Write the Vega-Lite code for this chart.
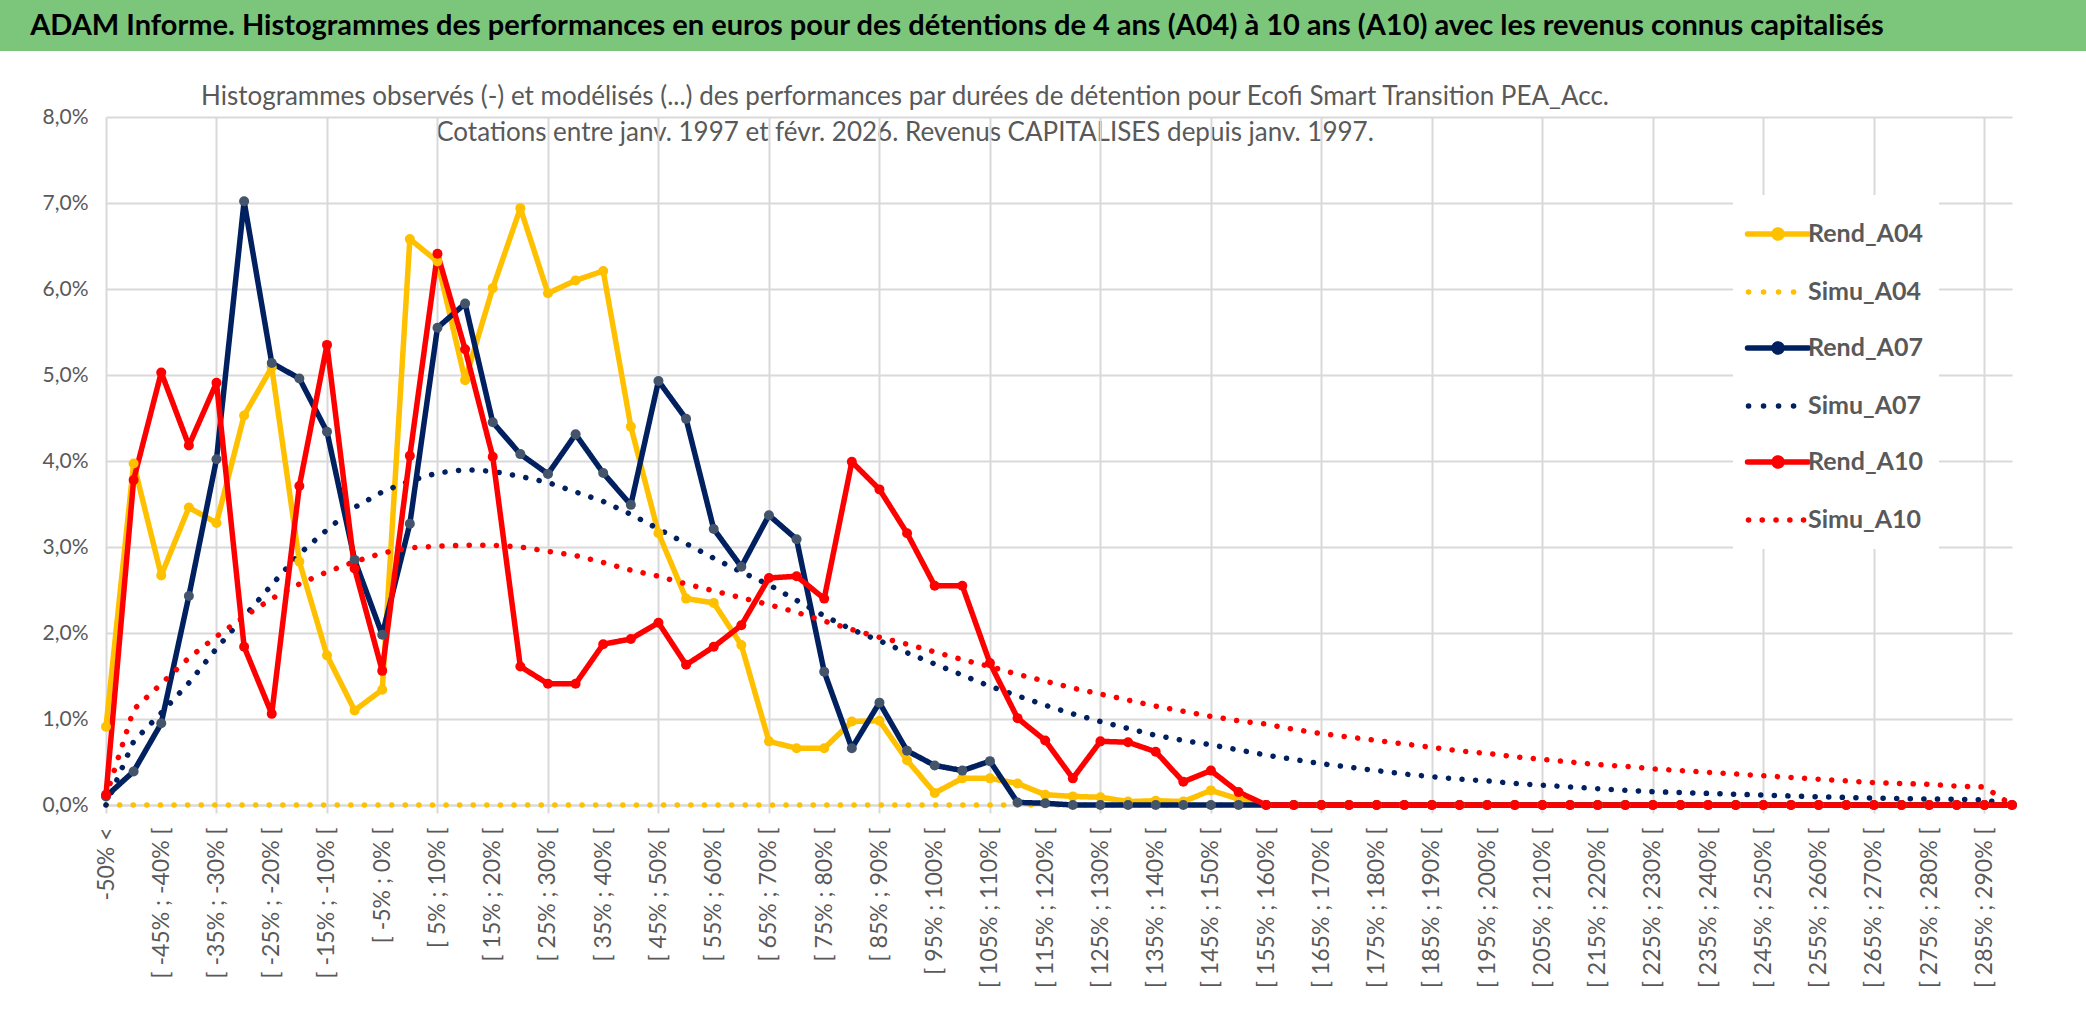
{
  "$schema": "https://vega.github.io/schema/vega-lite/v6.json",
  "background": "white",
  "padding": 0,
  "columns": 1,
  "bounds": "flush",
  "spacing": 13,
  "config": {"font": "Lato", "view": {"stroke": null}},
  "concat": [
    {
      "width": 2086,
      "height": 51,
      "view": {"fill": "#7CC67C", "stroke": null},
      "data": {"values": [{"t": "ADAM Informe. Histogrammes des performances en euros pour des détentions de 4 ans (A04) à 10 ans (A10) avec les revenus connus capitalisés"}]},
      "mark": {"type": "text", "align": "center", "baseline": "middle", "dx": -86, "font": "Lato", "fontSize": 29, "fontWeight": "bold", "color": "#000000"},
      "encoding": {"text": {"field": "t", "type": "nominal"}}
    },
    {
      "width": 1810,
      "height": 40,
      "data": {"values": [{"t": ["Histogrammes observés (-) et modélisés (...) des performances par durées de détention pour Ecofi Smart Transition PEA_Acc.", "Cotations entre janv. 1997 et févr. 2026. Revenus CAPITALISES depuis janv. 1997."]}]},
      "mark": {"type": "text", "align": "center", "baseline": "top", "lineHeight": 36, "font": "Lato", "fontSize": 26, "color": "#595959"},
      "encoding": {"text": {"field": "t", "type": "nominal"}}
    },
    {
      "width": 2012,
      "height": 688,
      "data": {"values": [
        {"c": "-50% <", "Rend_A04": 0.91, "Simu_A04": 0, "Rend_A07": 0.10, "Simu_A07": 0.0, "Rend_A10": 0.12, "Simu_A10": 0.10},
        {"c": "[ -50% ; -45% [", "Rend_A04": 3.97, "Simu_A04": 0, "Rend_A07": 0.39, "Simu_A07": 0.74, "Rend_A10": 3.78, "Simu_A10": 1.11},
        {"c": "[ -45% ; -40% [", "Rend_A04": 2.67, "Simu_A04": 0, "Rend_A07": 0.95, "Simu_A07": 1.07, "Rend_A10": 5.03, "Simu_A10": 1.41},
        {"c": "[ -40% ; -35% [", "Rend_A04": 3.46, "Simu_A04": 0, "Rend_A07": 2.43, "Simu_A07": 1.42, "Rend_A10": 4.18, "Simu_A10": 1.71},
        {"c": "[ -35% ; -30% [", "Rend_A04": 3.28, "Simu_A04": 0, "Rend_A07": 4.02, "Simu_A07": 1.82, "Rend_A10": 4.91, "Simu_A10": 1.96},
        {"c": "[ -30% ; -25% [", "Rend_A04": 4.53, "Simu_A04": 0, "Rend_A07": 7.02, "Simu_A07": 2.19, "Rend_A10": 1.84, "Simu_A10": 2.19},
        {"c": "[ -25% ; -20% [", "Rend_A04": 5.09, "Simu_A04": 0, "Rend_A07": 5.14, "Simu_A07": 2.56, "Rend_A10": 1.06, "Simu_A10": 2.40},
        {"c": "[ -20% ; -15% [", "Rend_A04": 2.83, "Simu_A04": 0, "Rend_A07": 4.96, "Simu_A07": 2.92, "Rend_A10": 3.71, "Simu_A10": 2.57},
        {"c": "[ -15% ; -10% [", "Rend_A04": 1.74, "Simu_A04": 0, "Rend_A07": 4.34, "Simu_A07": 3.20, "Rend_A10": 5.35, "Simu_A10": 2.71},
        {"c": "[ -10% ; -5% [", "Rend_A04": 1.10, "Simu_A04": 0, "Rend_A07": 2.85, "Simu_A07": 3.46, "Rend_A10": 2.75, "Simu_A10": 2.83},
        {"c": "[ -5% ; 0% [", "Rend_A04": 1.34, "Simu_A04": 0, "Rend_A07": 1.98, "Simu_A07": 3.64, "Rend_A10": 1.56, "Simu_A10": 2.93},
        {"c": "[ 0% ; 5% [", "Rend_A04": 6.58, "Simu_A04": 0, "Rend_A07": 3.27, "Simu_A07": 3.77, "Rend_A10": 4.06, "Simu_A10": 2.99},
        {"c": "[ 5% ; 10% [", "Rend_A04": 6.32, "Simu_A04": 0, "Rend_A07": 5.55, "Simu_A07": 3.86, "Rend_A10": 6.41, "Simu_A10": 3.01},
        {"c": "[ 10% ; 15% [", "Rend_A04": 4.94, "Simu_A04": 0, "Rend_A07": 5.83, "Simu_A07": 3.90, "Rend_A10": 5.30, "Simu_A10": 3.02},
        {"c": "[ 15% ; 20% [", "Rend_A04": 6.01, "Simu_A04": 0, "Rend_A07": 4.45, "Simu_A07": 3.88, "Rend_A10": 4.05, "Simu_A10": 3.02},
        {"c": "[ 20% ; 25% [", "Rend_A04": 6.94, "Simu_A04": 0, "Rend_A07": 4.08, "Simu_A07": 3.82, "Rend_A10": 1.61, "Simu_A10": 3.00},
        {"c": "[ 25% ; 30% [", "Rend_A04": 5.95, "Simu_A04": 0, "Rend_A07": 3.85, "Simu_A07": 3.75, "Rend_A10": 1.41, "Simu_A10": 2.95},
        {"c": "[ 30% ; 35% [", "Rend_A04": 6.10, "Simu_A04": 0, "Rend_A07": 4.31, "Simu_A07": 3.64, "Rend_A10": 1.41, "Simu_A10": 2.90},
        {"c": "[ 35% ; 40% [", "Rend_A04": 6.21, "Simu_A04": 0, "Rend_A07": 3.86, "Simu_A07": 3.53, "Rend_A10": 1.87, "Simu_A10": 2.82},
        {"c": "[ 40% ; 45% [", "Rend_A04": 4.40, "Simu_A04": 0, "Rend_A07": 3.49, "Simu_A07": 3.38, "Rend_A10": 1.93, "Simu_A10": 2.73},
        {"c": "[ 45% ; 50% [", "Rend_A04": 3.16, "Simu_A04": 0, "Rend_A07": 4.93, "Simu_A07": 3.21, "Rend_A10": 2.12, "Simu_A10": 2.66},
        {"c": "[ 50% ; 55% [", "Rend_A04": 2.40, "Simu_A04": 0, "Rend_A07": 4.49, "Simu_A07": 3.04, "Rend_A10": 1.63, "Simu_A10": 2.57},
        {"c": "[ 55% ; 60% [", "Rend_A04": 2.35, "Simu_A04": 0, "Rend_A07": 3.21, "Simu_A07": 2.87, "Rend_A10": 1.84, "Simu_A10": 2.49},
        {"c": "[ 60% ; 65% [", "Rend_A04": 1.86, "Simu_A04": 0, "Rend_A07": 2.77, "Simu_A07": 2.71, "Rend_A10": 2.09, "Simu_A10": 2.41},
        {"c": "[ 65% ; 70% [", "Rend_A04": 0.74, "Simu_A04": 0, "Rend_A07": 3.37, "Simu_A07": 2.56, "Rend_A10": 2.64, "Simu_A10": 2.33},
        {"c": "[ 70% ; 75% [", "Rend_A04": 0.66, "Simu_A04": 0, "Rend_A07": 3.09, "Simu_A07": 2.38, "Rend_A10": 2.66, "Simu_A10": 2.24},
        {"c": "[ 75% ; 80% [", "Rend_A04": 0.66, "Simu_A04": 0, "Rend_A07": 1.55, "Simu_A07": 2.20, "Rend_A10": 2.40, "Simu_A10": 2.14},
        {"c": "[ 80% ; 85% [", "Rend_A04": 0.97, "Simu_A04": 0, "Rend_A07": 0.66, "Simu_A07": 2.04, "Rend_A10": 3.99, "Simu_A10": 2.04},
        {"c": "[ 85% ; 90% [", "Rend_A04": 0.98, "Simu_A04": 0, "Rend_A07": 1.19, "Simu_A07": 1.91, "Rend_A10": 3.67, "Simu_A10": 1.95},
        {"c": "[ 90% ; 95% [", "Rend_A04": 0.52, "Simu_A04": 0, "Rend_A07": 0.63, "Simu_A07": 1.77, "Rend_A10": 3.16, "Simu_A10": 1.87},
        {"c": "[ 95% ; 100% [", "Rend_A04": 0.14, "Simu_A04": 0, "Rend_A07": 0.46, "Simu_A07": 1.64, "Rend_A10": 2.55, "Simu_A10": 1.78},
        {"c": "[ 100% ; 105% [", "Rend_A04": 0.31, "Simu_A04": 0, "Rend_A07": 0.40, "Simu_A07": 1.51, "Rend_A10": 2.55, "Simu_A10": 1.69},
        {"c": "[ 105% ; 110% [", "Rend_A04": 0.31, "Simu_A04": 0, "Rend_A07": 0.51, "Simu_A07": 1.38, "Rend_A10": 1.65, "Simu_A10": 1.61},
        {"c": "[ 110% ; 115% [", "Rend_A04": 0.25, "Simu_A04": 0, "Rend_A07": 0.03, "Simu_A07": 1.27, "Rend_A10": 1.01, "Simu_A10": 1.52},
        {"c": "[ 115% ; 120% [", "Rend_A04": 0.12, "Simu_A04": 0, "Rend_A07": 0.02, "Simu_A07": 1.16, "Rend_A10": 0.75, "Simu_A10": 1.44},
        {"c": "[ 120% ; 125% [", "Rend_A04": 0.10, "Simu_A04": 0, "Rend_A07": 0, "Simu_A07": 1.06, "Rend_A10": 0.31, "Simu_A10": 1.36},
        {"c": "[ 125% ; 130% [", "Rend_A04": 0.09, "Simu_A04": 0, "Rend_A07": 0, "Simu_A07": 0.97, "Rend_A10": 0.74, "Simu_A10": 1.29},
        {"c": "[ 130% ; 135% [", "Rend_A04": 0.04, "Simu_A04": 0, "Rend_A07": 0, "Simu_A07": 0.89, "Rend_A10": 0.73, "Simu_A10": 1.22},
        {"c": "[ 135% ; 140% [", "Rend_A04": 0.05, "Simu_A04": 0, "Rend_A07": 0, "Simu_A07": 0.81, "Rend_A10": 0.62, "Simu_A10": 1.15},
        {"c": "[ 140% ; 145% [", "Rend_A04": 0.04, "Simu_A04": 0, "Rend_A07": 0, "Simu_A07": 0.75, "Rend_A10": 0.27, "Simu_A10": 1.09},
        {"c": "[ 145% ; 150% [", "Rend_A04": 0.17, "Simu_A04": 0, "Rend_A07": 0, "Simu_A07": 0.70, "Rend_A10": 0.40, "Simu_A10": 1.03},
        {"c": "[ 150% ; 155% [", "Rend_A04": 0.07, "Simu_A04": 0, "Rend_A07": 0, "Simu_A07": 0.64, "Rend_A10": 0.15, "Simu_A10": 0.98},
        {"c": "[ 155% ; 160% [", "Rend_A04": 0, "Simu_A04": 0, "Rend_A07": 0, "Simu_A07": 0.58, "Rend_A10": 0, "Simu_A10": 0.94},
        {"c": "[ 160% ; 165% [", "Rend_A04": 0, "Simu_A04": 0, "Rend_A07": 0, "Simu_A07": 0.53, "Rend_A10": 0, "Simu_A10": 0.88},
        {"c": "[ 165% ; 170% [", "Rend_A04": 0, "Simu_A04": 0, "Rend_A07": 0, "Simu_A07": 0.48, "Rend_A10": 0, "Simu_A10": 0.83},
        {"c": "[ 170% ; 175% [", "Rend_A04": 0, "Simu_A04": 0, "Rend_A07": 0, "Simu_A07": 0.44, "Rend_A10": 0, "Simu_A10": 0.79},
        {"c": "[ 175% ; 180% [", "Rend_A04": 0, "Simu_A04": 0, "Rend_A07": 0, "Simu_A07": 0.40, "Rend_A10": 0, "Simu_A10": 0.75},
        {"c": "[ 180% ; 185% [", "Rend_A04": 0, "Simu_A04": 0, "Rend_A07": 0, "Simu_A07": 0.36, "Rend_A10": 0, "Simu_A10": 0.71},
        {"c": "[ 185% ; 190% [", "Rend_A04": 0, "Simu_A04": 0, "Rend_A07": 0, "Simu_A07": 0.33, "Rend_A10": 0, "Simu_A10": 0.67},
        {"c": "[ 190% ; 195% [", "Rend_A04": 0, "Simu_A04": 0, "Rend_A07": 0, "Simu_A07": 0.30, "Rend_A10": 0, "Simu_A10": 0.63},
        {"c": "[ 195% ; 200% [", "Rend_A04": 0, "Simu_A04": 0, "Rend_A07": 0, "Simu_A07": 0.28, "Rend_A10": 0, "Simu_A10": 0.60},
        {"c": "[ 200% ; 205% [", "Rend_A04": 0, "Simu_A04": 0, "Rend_A07": 0, "Simu_A07": 0.25, "Rend_A10": 0, "Simu_A10": 0.56},
        {"c": "[ 205% ; 210% [", "Rend_A04": 0, "Simu_A04": 0, "Rend_A07": 0, "Simu_A07": 0.23, "Rend_A10": 0, "Simu_A10": 0.53},
        {"c": "[ 210% ; 215% [", "Rend_A04": 0, "Simu_A04": 0, "Rend_A07": 0, "Simu_A07": 0.21, "Rend_A10": 0, "Simu_A10": 0.50},
        {"c": "[ 215% ; 220% [", "Rend_A04": 0, "Simu_A04": 0, "Rend_A07": 0, "Simu_A07": 0.19, "Rend_A10": 0, "Simu_A10": 0.47},
        {"c": "[ 220% ; 225% [", "Rend_A04": 0, "Simu_A04": 0, "Rend_A07": 0, "Simu_A07": 0.17, "Rend_A10": 0, "Simu_A10": 0.45},
        {"c": "[ 225% ; 230% [", "Rend_A04": 0, "Simu_A04": 0, "Rend_A07": 0, "Simu_A07": 0.155, "Rend_A10": 0, "Simu_A10": 0.42},
        {"c": "[ 230% ; 235% [", "Rend_A04": 0, "Simu_A04": 0, "Rend_A07": 0, "Simu_A07": 0.145, "Rend_A10": 0, "Simu_A10": 0.40},
        {"c": "[ 235% ; 240% [", "Rend_A04": 0, "Simu_A04": 0, "Rend_A07": 0, "Simu_A07": 0.135, "Rend_A10": 0, "Simu_A10": 0.38},
        {"c": "[ 240% ; 245% [", "Rend_A04": 0, "Simu_A04": 0, "Rend_A07": 0, "Simu_A07": 0.125, "Rend_A10": 0, "Simu_A10": 0.36},
        {"c": "[ 245% ; 250% [", "Rend_A04": 0, "Simu_A04": 0, "Rend_A07": 0, "Simu_A07": 0.115, "Rend_A10": 0, "Simu_A10": 0.34},
        {"c": "[ 250% ; 255% [", "Rend_A04": 0, "Simu_A04": 0, "Rend_A07": 0, "Simu_A07": 0.105, "Rend_A10": 0, "Simu_A10": 0.32},
        {"c": "[ 255% ; 260% [", "Rend_A04": 0, "Simu_A04": 0, "Rend_A07": 0, "Simu_A07": 0.095, "Rend_A10": 0, "Simu_A10": 0.30},
        {"c": "[ 260% ; 265% [", "Rend_A04": 0, "Simu_A04": 0, "Rend_A07": 0, "Simu_A07": 0.088, "Rend_A10": 0, "Simu_A10": 0.28},
        {"c": "[ 265% ; 270% [", "Rend_A04": 0, "Simu_A04": 0, "Rend_A07": 0, "Simu_A07": 0.08, "Rend_A10": 0, "Simu_A10": 0.26},
        {"c": "[ 270% ; 275% [", "Rend_A04": 0, "Simu_A04": 0, "Rend_A07": 0, "Simu_A07": 0.075, "Rend_A10": 0, "Simu_A10": 0.25},
        {"c": "[ 275% ; 280% [", "Rend_A04": 0, "Simu_A04": 0, "Rend_A07": 0, "Simu_A07": 0.07, "Rend_A10": 0, "Simu_A10": 0.24},
        {"c": "[ 280% ; 285% [", "Rend_A04": 0, "Simu_A04": 0, "Rend_A07": 0, "Simu_A07": 0.065, "Rend_A10": 0, "Simu_A10": 0.22},
        {"c": "[ 285% ; 290% [", "Rend_A04": 0, "Simu_A04": 0, "Rend_A07": 0, "Simu_A07": 0.06, "Rend_A10": 0, "Simu_A10": 0.21},
        {"c": "[ 290% ; 295% [", "Rend_A04": 0, "Simu_A04": 0, "Rend_A07": 0, "Simu_A07": 0.0, "Rend_A10": 0, "Simu_A10": 0.0}
      ]},
      "transform": [
        {"fold": ["Rend_A04", "Simu_A04", "Rend_A07", "Simu_A07", "Rend_A10", "Simu_A10"], "as": ["series", "v"]}
      ],
      "encoding": {
        "x": {
          "field": "c", "type": "ordinal", "sort": null,
          "scale": {"type": "point", "padding": 0, "range": [106, 2012]},
          "axis": {
            "title": null,
            "values": ["-50% <", "[ -45% ; -40% [", "[ -35% ; -30% [", "[ -25% ; -20% [", "[ -15% ; -10% [", "[ -5% ; 0% [", "[ 5% ; 10% [", "[ 15% ; 20% [", "[ 25% ; 30% [", "[ 35% ; 40% [", "[ 45% ; 50% [", "[ 55% ; 60% [", "[ 65% ; 70% [", "[ 75% ; 80% [", "[ 85% ; 90% [", "[ 95% ; 100% [", "[ 105% ; 110% [", "[ 115% ; 120% [", "[ 125% ; 130% [", "[ 135% ; 140% [", "[ 145% ; 150% [", "[ 155% ; 160% [", "[ 165% ; 170% [", "[ 175% ; 180% [", "[ 185% ; 190% [", "[ 195% ; 200% [", "[ 205% ; 210% [", "[ 215% ; 220% [", "[ 225% ; 230% [", "[ 235% ; 240% [", "[ 245% ; 250% [", "[ 255% ; 260% [", "[ 265% ; 270% [", "[ 275% ; 280% [", "[ 285% ; 290% ["],
            "labelAngle": -90,
            "labelFont": "Lato", "labelFontSize": 23, "labelColor": "#595959", "labelPadding": 14,
            "domainColor": "#D9D9D9", "domainWidth": 2,
            "ticks": true, "tickColor": "#D9D9D9", "tickWidth": 2, "tickSize": 8,
            "tickOpacity": {"condition": {"test": "round(datum.index * 34) % 2 === 0", "value": 1}, "value": 0},
            "grid": true, "gridColor": "#D9D9D9", "gridWidth": 2,
            "gridOpacity": {"condition": {"test": "round(datum.index * 34) % 2 === 0", "value": 1}, "value": 0}
          }
        },
        "y": {
          "field": "v", "type": "quantitative",
          "scale": {"domain": [0, 8], "nice": false},
          "axis": {
            "title": null, "values": [0, 1, 2, 3, 4, 5, 6, 7, 8], "offset": -106,
            "labelExpr": "replace(format(datum.value, '.1f'), '.', ',') + '%'",
            "labelFont": "Lato", "labelFontSize": 21, "labelColor": "#595959", "labelPadding": 18,
            "domain": false, "ticks": false,
            "grid": true, "gridColor": "#D9D9D9", "gridWidth": 2
          }
        }
      },
      "layer": [
        {
          "mark": {"type": "line", "strokeWidth": 5.5, "strokeCap": "round", "strokeJoin": "round"},
          "encoding": {
            "order": {"value": null},
            "color": {
              "field": "series", "type": "nominal",
              "scale": {"domain": ["Rend_A04", "Simu_A04", "Rend_A07", "Simu_A07", "Rend_A10", "Simu_A10"], "range": ["#FFC000", "#FFC000", "#002060", "#002060", "#FF0000", "#FF0000"]},
              "legend": {
                "title": null, "orient": "none", "legendX": 1733, "legendY": 195,
                "fillColor": "white", "padding": 16,
                "labelFont": "Lato", "labelFontSize": 25, "labelFontWeight": "bold", "labelColor": "#595959",
                "labelOffset": 13, "rowPadding": 20,
                "symbolSize": 1600, "symbolStrokeWidth": 5.5, "symbolType": "stroke",
                "encode": {
                  "symbols": {
                    "update": {
                      "shape": {"signal": "datum.value === 'Simu_A10' ? 'M-1.175,0h0.01M-0.49,0h0.01M0.2,0h0.01M0.89,0h0.01M1.575,0h0.01' : (indexof(datum.value, 'Simu') === 0 ? 'M-1.175,0h0.01M-0.425,0h0.01M0.325,0h0.01M1.075,0h0.01' : 'M-1.225,0H1.825M0.1,0a0.2,0.2 0 1,0 0.4,0a0.2,0.2 0 1,0 -0.4,0')"},
                      "strokeCap": {"value": "round"},
                      "fill": {"signal": "datum.value === 'Rend_A07' ? '#44546A' : (indexof(datum.value, 'A04') > 0 ? '#FFC000' : (indexof(datum.value, 'A10') > 0 ? '#FF0000' : '#002060'))"}
                    }
                  }
                }
              }
            },
            "strokeDash": {
              "field": "series", "type": "nominal",
              "scale": {"domain": ["Rend_A04", "Simu_A04", "Rend_A07", "Simu_A07", "Rend_A10", "Simu_A10"], "range": [[1, 0], [0.1, 13.5], [1, 0], [0.1, 13.5], [1, 0], [0.1, 13.5]]},
              "legend": null
            }
          }
        },
        {
          "transform": [{"filter": "indexof(datum.series, 'Rend') === 0"}],
          "mark": {"type": "point", "filled": true, "size": 100, "opacity": 1},
          "encoding": {
            "fill": {
              "field": "series", "type": "nominal",
              "scale": {"domain": ["Rend_A04", "Rend_A07", "Rend_A10"], "range": ["#FFC000", "#44546A", "#FF0000"]},
              "legend": null
            }
          }
        }
      ]
    }
  ]
}
